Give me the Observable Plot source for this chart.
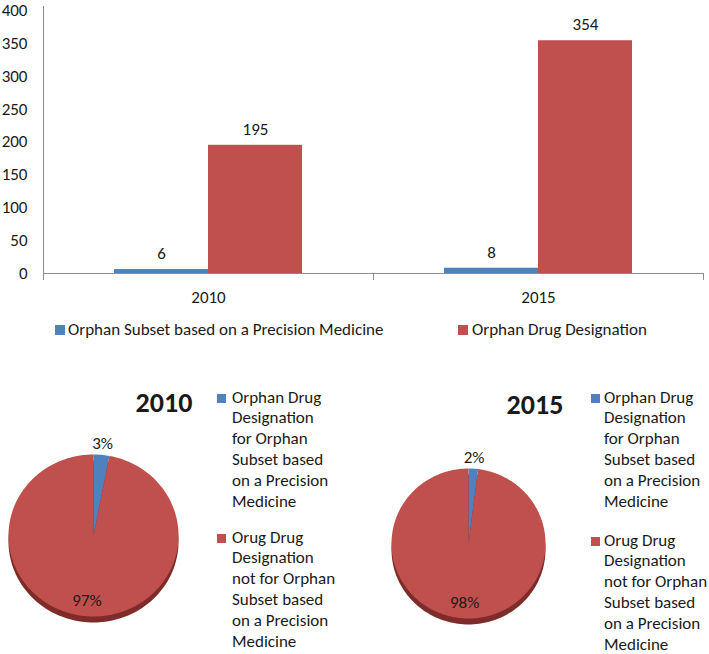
<!DOCTYPE html>
<html><head><meta charset="utf-8">
<script src="https://cdn.jsdelivr.net/npm/d3@7"></script>
<script src="https://cdn.jsdelivr.net/npm/@observablehq/plot@0.6"></script>
<style>
body{margin:0;background:#fff;font-family:Carlito, Lato, sans-serif;color:#1a1a1a;}
#root{position:relative;width:709px;height:654px;overflow:hidden;}
.plot{position:absolute;}
.sw{position:absolute;width:9px;height:9px;}
.lg{position:absolute;font-size:17px;line-height:20.8px;white-space:nowrap;}
.ttl{position:absolute;font-size:28px;font-weight:bold;line-height:32px;width:100px;text-align:center;}
</style></head><body><div id="root"></div>
<script>
const years = ["2010", "2015"];
const seriesNames = ["Orphan Subset based on a Precision Medicine", "Orphan Drug Designation"];
const subsetCounts = [6, 8];
const designationCounts = [195, 354];
const yTicks = [0, 50, 100, 150, 200, 250, 300, 350, 400];
const pieYears = ["2010", "2015"];
const pieShares2010 = [3, 97];
const pieShares2015 = [2, 98];
const pieSeries = ["Orphan Drug Designation for Orphan Subset based on a Precision Medicine",
                   "Orug Drug Designation not for Orphan Subset based on a Precision Medicine"];
const pieLegendLines = [
  ["Orphan Drug", "Designation", "for Orphan", "Subset based", "on a Precision", "Medicine"],
  ["Orug Drug", "Designation", "not for Orphan", "Subset based", "on a Precision", "Medicine"]
];
const colors = ["#4F81BD", "#C0504D"];

const root = document.getElementById("root");
const FONT = "Carlito, Lato, sans-serif";
const AX = "#8c8c8c";
const FS = 17;

// ---- Bar chart ----
const rows = years.flatMap((yr, i) => [
  {year: yr, series: seriesNames[0], value: subsetCounts[i]},
  {year: yr, series: seriesNames[1], value: designationCounts[i]}
]);

const bar = Plot.plot({
  width: 709, height: 310,
  marginLeft: 42, marginRight: 6, marginTop: 10, marginBottom: 37,
  style: {fontFamily: FONT, fontSize: FS + "px", color: "#1a1a1a", background: "transparent", overflow: "visible"},
  fx: {domain: years, padding: 0, label: null},
  x: {domain: seriesNames, paddingInner: 0, paddingOuter: 0.755, axis: null},
  y: {domain: [0, 400]},
  color: {domain: seriesNames, range: colors},
  marks: [
    Plot.barY(rows, {fx: "year", x: "series", y: "value", fill: "series"}),
    Plot.text(rows, {fx: "year", x: "series", y: "value", text: d => String(d.value), dy: -16, fontSize: FS, fill: "#1a1a1a"}),
    Plot.ruleY([0], {stroke: AX}),
    Plot.frame({anchor: "left", facetAnchor: "left", stroke: AX, insetTop: -4, insetBottom: -6}),
    Plot.frame({anchor: "left", stroke: AX, insetTop: 263, insetBottom: -6}),
    Plot.frame({anchor: "right", facetAnchor: "right", stroke: AX, insetTop: 263, insetBottom: -6}),
    Plot.axisY({ticks: yTicks, tickSize: 0, tickPadding: 16, label: null, fontSize: FS}),
    Plot.axisFx({anchor: "bottom", tickSize: 0, tickPadding: 17, label: null, fontSize: FS})
  ]
});
bar.classList.add("plot");
bar.style.left = "0px"; bar.style.top = "0px";
root.appendChild(bar);

function addSwatch(x, yc, color, size) {
  const s = document.createElement("div");
  s.className = "sw";
  s.style.width = size + "px"; s.style.height = size + "px";
  s.style.left = x + "px"; s.style.top = (yc - size / 2) + "px";
  s.style.background = color;
  root.appendChild(s);
}
function addText(x, yc, lines) {
  const t = document.createElement("div");
  t.className = "lg";
  t.style.left = x + "px";
  t.style.top = (yc - 10.4) + "px";
  t.innerHTML = lines.join("<br>");
  root.appendChild(t);
}
// bar legend
addSwatch(55, 330, colors[0], 10);
addText(68, 330, [seriesNames[0]]);
addSwatch(458, 330, colors[1], 10);
addText(472, 330, [seriesNames[1]]);

// ---- Pies ----
function makePie(shares, o) {
  const arcs = d3.pie().sort(null)(shares);
  const pts = [];
  arcs.forEach((a, i) => {
    const n = Math.max(2, Math.ceil((a.endAngle - a.startAngle) / 0.02));
    pts.push({s: pieSeries[i], x: 0, y: 0});
    for (let j = 0; j <= n; j++) {
      const ang = a.startAngle + (a.endAngle - a.startAngle) * j / n;
      pts.push({s: pieSeries[i], x: Math.sin(ang), y: Math.cos(ang)});
    }
    pts.push({s: pieSeries[i], x: 0, y: 0});
  });
  const circle = d3.range(0, 181).map(j => ({x: Math.sin(j / 180 * 2 * Math.PI), y: Math.cos(j / 180 * 2 * Math.PI)}));
  const labs = arcs.map((a, i) => {
    const m = (a.startAngle + a.endAngle) / 2;
    const k = i === 0 ? o.outK : o.inK;
    return {x: Math.sin(m) * k, y: Math.cos(m) * k, t: shares[i] + "%"};
  });
  const W = 220, C = 110;
  const p = Plot.plot({
    width: W, height: W, margin: 0,
    style: {fontFamily: FONT, fontSize: FS + "px", color: "#1a1a1a", background: "transparent"},
    x: {domain: [-1, 1], range: [C - o.rx, C + o.rx], axis: null},
    y: {domain: [-1, 1], range: [C + o.ry, C - o.ry], axis: null},
    color: {domain: pieSeries, range: colors},
    marks: [
      Plot.line(circle, {x: "x", y: "y", fill: "#7e2c2a", stroke: "none", dy: 6}),
      Plot.line(pts, {x: "x", y: "y", fill: "s", z: "s", stroke: "none"}),
      Plot.text(labs, {x: "x", y: "y", text: "t", fontSize: FS, fill: "#1a1a1a"})
    ]
  });
  p.classList.add("plot");
  p.style.left = (o.cx - C) + "px";
  p.style.top = (o.cy - C) + "px";
  root.appendChild(p);
}
makePie(pieShares2010, {cx: 93, cy: 535, rx: 85, ry: 81, outK: 1.14, inK: 0.81});
makePie(pieShares2015, {cx: 468, cy: 543, rx: 77, ry: 75, outK: 1.15, inK: 0.79});

// titles
function addTitle(cx, cy, txt) {
  const t = document.createElement("div");
  t.className = "ttl";
  t.style.left = (cx - 50) + "px";
  t.style.top = (cy - 16) + "px";
  t.textContent = txt;
  root.appendChild(t);
}
addTitle(164, 403, pieYears[0]);
addTitle(535, 405, pieYears[1]);

// pie legends
addSwatch(217, 398, colors[0], 9);
addText(232, 398, pieLegendLines[0]);
addSwatch(217, 538, colors[1], 9);
addText(232, 538, pieLegendLines[1]);
addSwatch(591, 398, colors[0], 9);
addText(604, 398, pieLegendLines[0]);
addSwatch(591, 541, colors[1], 9);
addText(604, 541, pieLegendLines[1]);
</script></body></html>
